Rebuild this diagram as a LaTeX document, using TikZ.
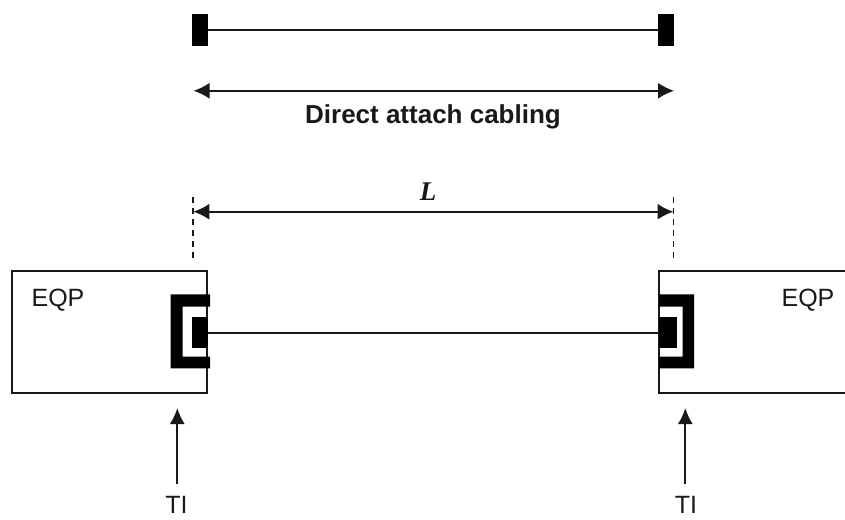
\documentclass[tikz,border=0pt]{standalone}
\usepackage{fontspec}
\setmainfont{Liberation Sans}
\newfontfamily\lfont{Liberation Serif}
\usetikzlibrary{arrows.meta}
\tikzset{
  wire/.style={line width=1.8pt,draw=black!90},
  dim/.style={wire,{Latex[length=16pt,width=16pt]}-{Latex[length=16pt,width=16pt]}},
  up/.style={wire,-{Latex[length=16pt,width=15pt]}},
  guide/.style={line width=1.4pt,draw=black!90,dash pattern=on 6pt off 5pt},
  solid block/.style={fill=black,draw=none,inner sep=0pt,outer sep=0pt},
  lab/.style={text=black!90,font=\fontsize{25}{28}\selectfont,inner sep=0pt,anchor=base}
}
\begin{document}
\begin{tikzpicture}[x=1pt,y=-1pt]
\useasboundingbox (0,0) rectangle (845,519);
% top cable
\node[solid block,minimum width=16pt,minimum height=31.7pt] (ta) at (200.3,29.8) {};
\node[solid block,minimum width=16pt,minimum height=31.7pt] (tb) at (666,29.8) {};
\draw[wire] (ta) -- (tb);
\coordinate (da) at (193.5,90.8);
\coordinate (db) at (674,90.8);
\draw[dim] (da) -- (db);
\node[lab,font=\fontsize{26}{28}\selectfont\bfseries] (cap) at (433,123.5) {Direct attach cabling};
% dimension L
\coordinate (la) at (193.3,211.7);
\coordinate (lb) at (673.5,211.7);
\coordinate (la0) at (193,196.7);
\coordinate (la1) at (193,258.3);
\coordinate (lb0) at (673.3,196.7);
\coordinate (lb1) at (673.3,258.3);
\draw[guide] (la0) -- (la1);
\draw[guide] (lb0) -- (lb1);
\draw[dim] (la) -- (lb);
\node[lab,font=\lfont\itshape\bfseries\fontsize{27}{28}\selectfont] (L) at (428,200.5) {L};
% equipment boxes
\draw[wire] (207.3,270.7) -- (12.3,270.7) -- (12.3,393.3) -- (207.3,393.3) -- cycle;
\draw[wire] (846,270.7) -- (659,270.7) -- (659,393.3) -- (846,393.3);
\node[lab] (e1) at (58,306) {EQP};
\node[lab] (e2) at (808,306) {EQP};
% left port
\fill (210,294.3) -- (170.7,294.3) -- (170.7,368.3) -- (210,368.3) -- (210,356.7) -- (182.7,356.7) -- (182.7,306.7) -- (210,306.7) -- cycle;
\node[solid block,minimum width=16pt,minimum height=31.7pt] (pa) at (200.3,332.5) {};
% right port
\fill (659,294.3) -- (694,294.3) -- (694,368.3) -- (659,368.3) -- (659,356.7) -- (682.7,356.7) -- (682.7,306.7) -- (659,306.7) -- cycle;
\node[solid block,minimum width=17.7pt,minimum height=31.7pt] (pb) at (667.8,332.5) {};
\draw[wire] (pa.east |- 0,333.3) -- (pb.west |- 0,333.3);
% TI
\node[lab] (t1) at (176.5,513.5) {TI};
\node[lab] (t2) at (686,513.5) {TI};
\coordinate (a1) at (177.3,408);
\coordinate (a2) at (685.3,408);
\coordinate (b1) at (177.3,484);
\coordinate (b2) at (685.3,484);
\draw[up] (b1) -- (a1);
\draw[up] (b2) -- (a2);
\end{tikzpicture}
\end{document}
